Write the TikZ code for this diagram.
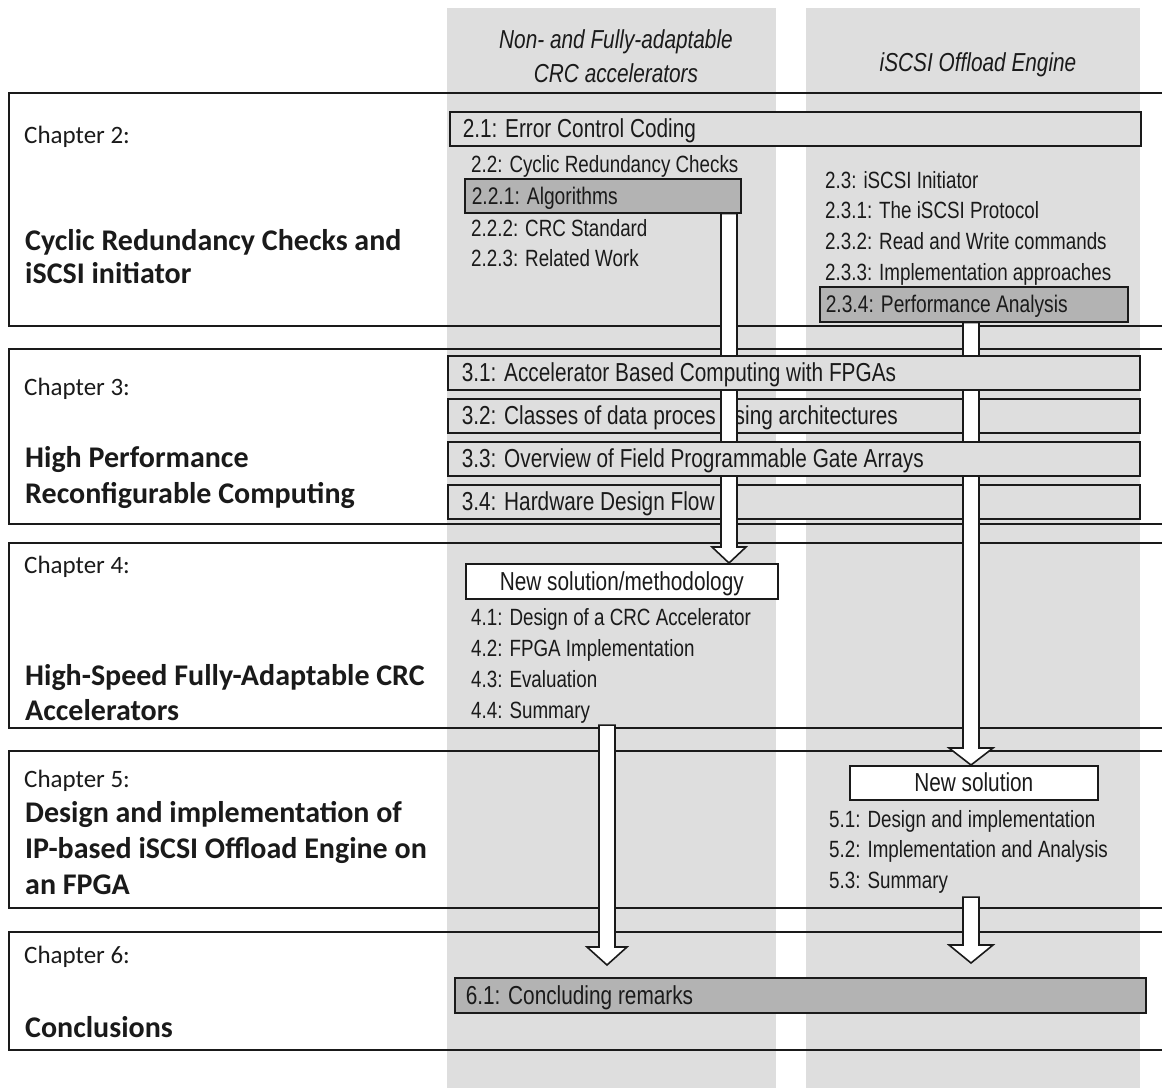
\documentclass[tikz,border=0pt]{standalone}
\usepackage{fontspec}
\setmainfont{Liberation Sans}[FakeStretch=0.8]
\newfontfamily\chapfont{Carlito}
\usetikzlibrary{calc}
\definecolor{colgray}{HTML}{DEDEDE}
\definecolor{darkfill}{HTML}{B3B3B3}
\definecolor{ink}{HTML}{1A1A1A}

% hollow block arrow: start point, tip point, head length, head half-width
\newcommand\blockarrow[4]{%
  \draw[hollow] let \p1=(#1), \p2=(#2) in
    (\x1-8pt,\y1) -- (\x1-8pt,\y2+#3) -- (\x1-#4,\y2+#3) -- (\x1,\y2)
    -- (\x1+#4,\y2+#3) -- (\x1+8pt,\y2+#3) -- (\x1+8pt,\y1) -- cycle;}
% left-aligned label of a given width inside a section box
\newcommand\seclabel[2]{\makebox[#1][l]{#2}}

\begin{document}
\begin{tikzpicture}[x=1pt,y=-1pt,
  item/.style={anchor=base west, inner sep=0pt, font=\fontsize{23.5}{28}\selectfont, text=ink},
  chaplabel/.style={anchor=base west, inner sep=0pt, font=\chapfont\fontsize{25}{30}\selectfont, text=ink},
  chaptitle/.style={anchor=base west, inner sep=0pt, font=\chapfont\bfseries\fontsize{30}{36}\selectfont, text=ink},
  header/.style={anchor=base, inner sep=0pt, font=\itshape\fontsize{26}{31}\selectfont, text=ink},
  secbox/.style={draw=ink, line width=1.6pt, fill=colgray, anchor=north west, inner ysep=0pt,
    minimum height=34pt, text height=18pt, text depth=0pt,
    font=\fontsize{26}{31}\selectfont, text=ink},
  hibox/.style={secbox, fill=darkfill},
  smallbox/.style={hibox, text height=17pt, font=\fontsize{24}{28}\selectfont},
  newbox/.style={draw=ink, line width=1.6pt, fill=white, anchor=north west, inner sep=0pt,
    text height=18pt, text depth=0pt, font=\fontsize{26}{31}\selectfont, text=ink},
  chapline/.style={draw=ink, line width=2pt},
  hollow/.style={draw=ink, line width=1.6pt, fill=white, line join=miter},
]
\useasboundingbox (0,0) rectangle (1162,1088);
\fill[white] (0,0) rectangle (1162,1088);

% the two column bands
\fill[colgray] (447,8) rectangle (776,1088);
\fill[colgray] (806,8) rectangle (1140,1088);

\node[header] (h1a) at (616,48) {Non- and Fully-adaptable};
\node[header] (h1b) at (616,82) {CRC accelerators};
\node[header] (h2) at (978,71) {iSCSI Offload Engine};

% chapter frames (open on the right)
\draw[chapline] (1162,93) -- (9,93) -- (9,326) -- (1162,326);
\draw[chapline] (1162,349) -- (9,349) -- (9,524) -- (1162,524);
\draw[chapline] (1162,543) -- (9,543) -- (9,728) -- (1162,728);
\draw[chapline] (1162,751) -- (9,751) -- (9,908) -- (1162,908);
\draw[chapline] (1162,932) -- (9,932) -- (9,1050) -- (1162,1050);

% chapter labels and titles
\node[chaplabel] (c2) at (24,143) {Chapter 2:};
\node[chaptitle] (c2t1) at (25,250) {Cyclic Redundancy Checks and};
\node[chaptitle] (c2t2) at (25,283) {iSCSI initiator};
\node[chaplabel] (c3) at (24,395) {Chapter 3:};
\node[chaptitle] (c3t1) at (25,467) {High Performance};
\node[chaptitle] (c3t2) at (25,503) {Reconfigurable Computing};
\node[chaplabel] (c4) at (24,573) {Chapter 4:};
\node[chaptitle] (c4t1) at (25,685) {High-Speed Fully-Adaptable CRC};
\node[chaptitle] (c4t2) at (25,720) {Accelerators};
\node[chaplabel] (c5) at (24,787) {Chapter 5:};
\node[chaptitle] (c5t1) at (25,822) {Design and implementation of};
\node[chaptitle] (c5t2) at (25,858) {IP-based iSCSI Offload Engine on};
\node[chaptitle] (c5t3) at (25,894) {an FPGA};
\node[chaplabel] (c6) at (24,963) {Chapter 6:};
\node[chaptitle] (c6t1) at (25,1037) {Conclusions};

% chapter 2 sections
\node[secbox, inner xsep=13pt] (s21) at (449,111) {\seclabel{665pt}{2.1: Error Control Coding}};
\node[item] (s22) at (471,172) {2.2: Cyclic Redundancy Checks};
\node[smallbox, inner xsep=7pt] (s221) at (464,178) {\seclabel{262pt}{2.2.1: Algorithms}};
\node[item] (s222) at (471,236) {2.2.2: CRC Standard};
\node[item] (s223) at (471,266) {2.2.3: Related Work};
\node[item] (s23) at (825,188) {2.3: iSCSI Initiator};
\node[item] (s231) at (825,218) {2.3.1: The iSCSI Protocol};
\node[item] (s232) at (825,249) {2.3.2: Read and Write commands};
\node[item] (s233) at (825,280) {2.3.3: Implementation approaches};
\node[smallbox, inner xsep=6pt, minimum height=35pt] (s234) at (819,286) {\seclabel{296pt}{2.3.4: Performance Analysis}};

% chapter 3 sections lying under the arrows
\node[secbox, inner xsep=14pt] (s32) at (447,398) {\seclabel{664pt}{3.2: Classes of data proces\kern19pt sing architectures}};
\node[secbox, inner xsep=14pt] (s34) at (447,484) {\seclabel{664pt}{3.4: Hardware Design Flow}};

% chapter 4
\node[newbox, minimum width=312pt, minimum height=35pt] (nm) at (465,563) {New solution/methodology};
\node[item] (s41) at (471,625) {4.1: Design of a CRC Accelerator};
\node[item] (s42) at (471,656) {4.2: FPGA Implementation};
\node[item] (s43) at (471,687) {4.3: Evaluation};
\node[item] (s44) at (471,718) {4.4: Summary};

% chapter 5
\node[newbox, minimum width=248pt, minimum height=34pt] (ns) at (849,765) {New solution};
\node[item] (s51) at (829,827) {5.1: Design and implementation};
\node[item] (s52) at (829,857) {5.2: Implementation and Analysis};
\node[item] (s53) at (829,888) {5.3: Summary};

% chapter 6
\node[hibox, inner xsep=11pt, minimum height=35pt] (s61) at (454,977) {\seclabel{669pt}{6.1: Concluding remarks}};

% flow arrows
\coordinate (xa) at (729,0);
\coordinate (xb) at (971,0);
\coordinate (xc) at (607,0);
\blockarrow{s221.south -| xa}{nm.north -| xa}{16pt}{17pt}
\blockarrow{s234.south -| xb}{ns.north -| xb}{17pt}{22pt}
\blockarrow{$(s44.south -| xc)+(0,2)$}{$(s61.north -| xc)+(0,-12)$}{18pt}{20pt}
\blockarrow{$(s53.south -| xb)+(0,4)$}{$(s61.north -| xb)+(0,-14)$}{18pt}{22pt}

% chapter 3 sections lying over the arrows
\node[secbox, inner xsep=14pt] (s31) at (447,355) {\seclabel{664pt}{3.1: Accelerator Based Computing with FPGAs}};
\node[secbox, inner xsep=14pt] (s33) at (447,441) {\seclabel{664pt}{3.3: Overview of Field Programmable Gate Arrays}};
\end{tikzpicture}
\end{document}
